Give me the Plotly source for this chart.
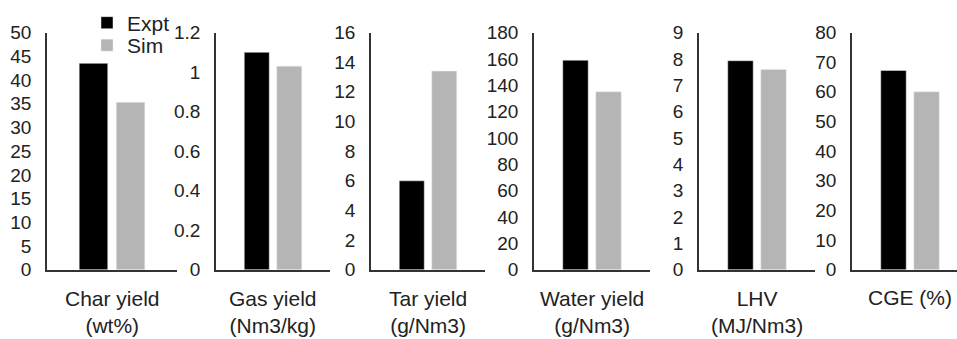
import plotly.graph_objects as go

# Measured quantities: experiment vs. simulation
metrics = ["Char yield", "Gas yield", "Tar yield", "Water yield", "LHV", "CGE (%)"]
units = ["(wt%)", "(Nm3/kg)", "(g/Nm3)", "(g/Nm3)", "(MJ/Nm3)", ""]
expt = [43.5, 1.10, 6.0, 159, 7.93, 67.2]
sim = [35.3, 1.03, 13.4, 135, 7.6, 60.0]
y_max = [50, 1.2, 16, 180, 9, 80]
y_step = [5, 0.2, 2, 20, 1, 10]

W, H = 957, 339
# panel extents in pixels (left, right) and x-range upper bound
panel_px = [(47, 177), (216, 330), (371, 485), (534, 650), (699, 815), (852, 957)]
x_hi = [0.5, 0.5, 0.5, 0.5, 0.5, 0.405]
plot_top, plot_bottom = 24, 277

TEXT = "#222222"
FONT = "Liberation Sans, Arial, sans-serif"

fig = go.Figure()
layout = {}
annotations = []
for i, name in enumerate(metrics):
    n = "" if i == 0 else str(i + 1)
    fig.add_trace(go.Bar(x=[name], y=[expt[i]], name="Expt", marker=dict(color="#000000"),
                         xaxis="x" + n, yaxis="y" + n, showlegend=(i == 0),
                         legend="legend"))
    fig.add_trace(go.Bar(x=[name], y=[sim[i]], name="Sim", marker=dict(color="#b5b5b5"),
                         xaxis="x" + n, yaxis="y" + n, showlegend=(i == 0),
                         legend="legend2"))
    l, r = panel_px[i]
    layout["xaxis" + n] = dict(
        domain=[l / W, r / W], anchor="y" + n, type="category",
        range=[-0.5, x_hi[i]], showticklabels=False, ticks="",
        showline=True, linecolor="#333333", linewidth=1.5, showgrid=False, zeroline=False,
        fixedrange=True,
    )
    layout["yaxis" + n] = dict(
        domain=[(H - plot_bottom) / H, (H - plot_top) / H], anchor="x" + n,
        range=[0, y_max[i]], dtick=y_step[i], tick0=0,
        showline=True, linecolor="#333333", linewidth=1.5, showgrid=False, zeroline=False,
        ticks="", ticklabelstandoff=10, tickfont=dict(size=19, color=TEXT, family=FONT),
    )
    label = name + ("<br>" + units[i] if units[i] else "")
    annotations.append(dict(x=name, xref="x" + n,
                            y=(H - (322 if units[i] else 307)) / H, yref="paper",
                            text=label, showarrow=False, yanchor="middle",
                            font=dict(size=21, color=TEXT, family=FONT)))

legend_font = dict(size=21, color=TEXT, family=FONT)
fig.update_layout(
    width=W, height=H,
    margin=dict(l=0, r=0, t=0, b=0),
    paper_bgcolor="white", plot_bgcolor="white",
    barmode="group", bargap=0.43, bargroupgap=0.23,
    font=dict(family=FONT, color=TEXT),
    legend=dict(x=87 / W, y=(H + 8) / H, xanchor="left", yanchor="top",
                font=legend_font, bgcolor="rgba(0,0,0,0)", itemwidth=30),
    legend2=dict(x=87 / W, y=(H - 16) / H, xanchor="left", yanchor="top",
                 font=legend_font, bgcolor="rgba(0,0,0,0)", itemwidth=30),
    annotations=annotations,
    **layout,
)

fig.write_html("out.html")
